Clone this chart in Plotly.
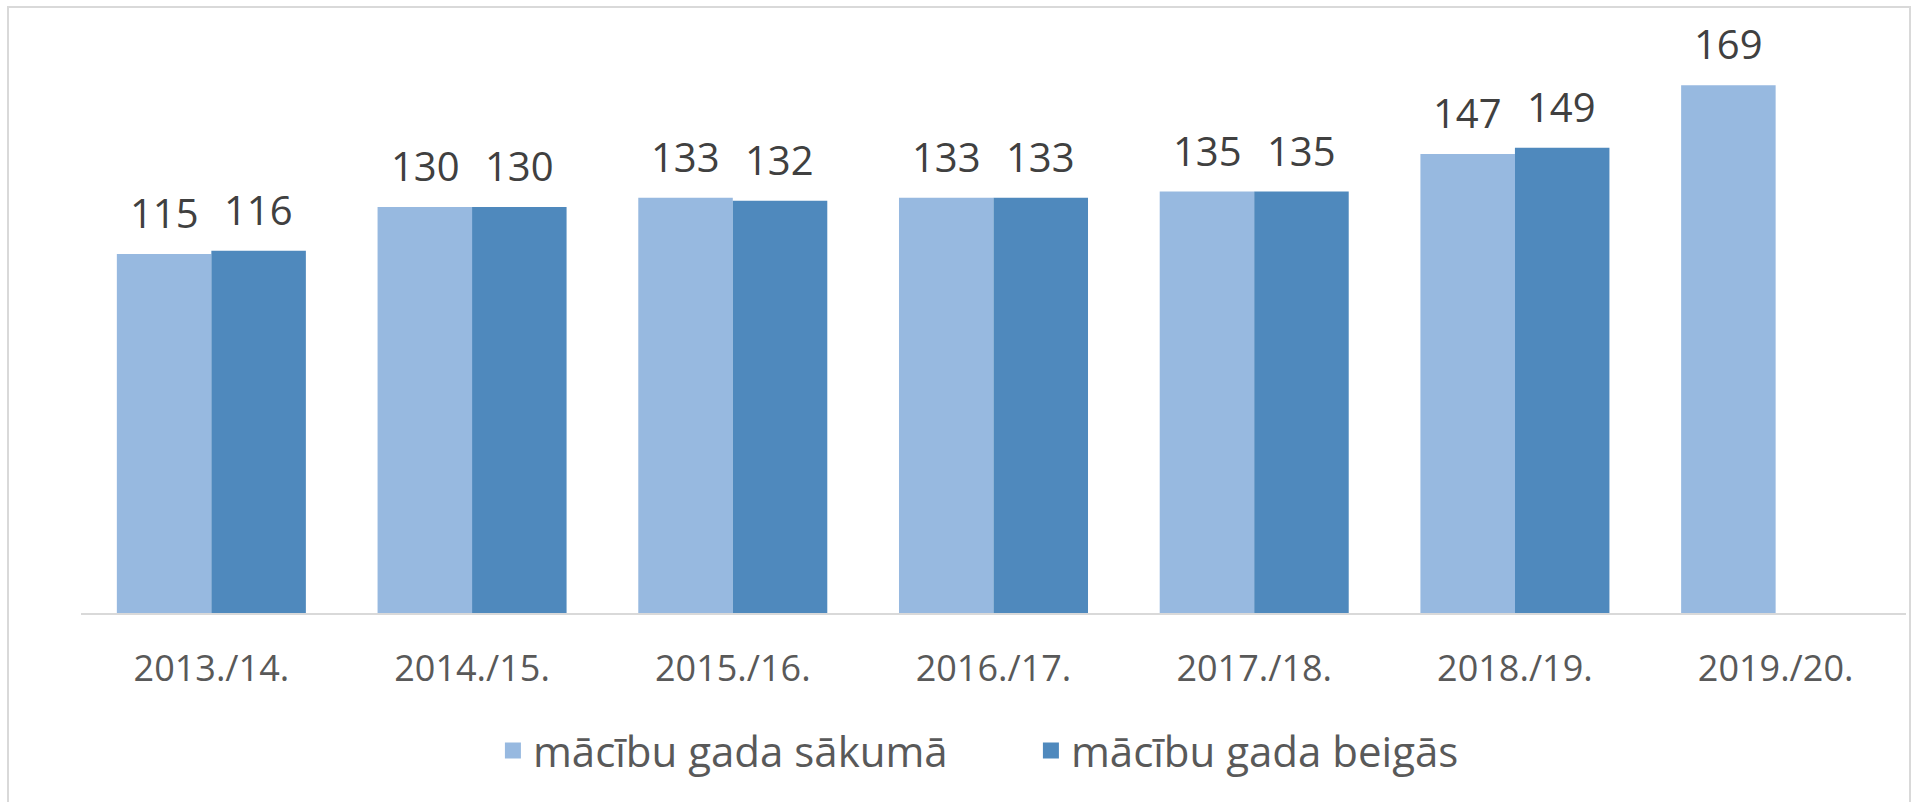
import plotly.graph_objects as go

categories = ["2013./14.", "2014./15.", "2015./16.", "2016./17.", "2017./18.", "2018./19.", "2019./20."]
start_values = [115, 130, 133, 133, 135, 147, 169]
end_values = [116, 130, 132, 133, 135, 149, None]
series_names = ["mācību gada sākumā", "mācību gada beigās"]
colors = ["#97B9E0", "#4F89BD"]

FONT = "Open Sans"

fig = go.Figure()
for name, vals, col in zip(series_names, [start_values, end_values], colors):
    fig.add_trace(go.Bar(
        x=categories, y=vals, name=name, marker_color=col,
        marker_line_width=0, hoverinfo="skip", showlegend=False,
    ))
# legend entries (square swatches)
for name, col in zip(series_names, colors):
    fig.add_trace(go.Scatter(
        x=[None], y=[None], mode="markers", name=name,
        marker=dict(symbol="square", size=16, color=col), showlegend=True,
    ))

annotations = []
for vals, shift in [(start_values, -47), (end_values, 47)]:
    for c, v in zip(categories, vals):
        if v is None:
            continue
        annotations.append(dict(
            x=c, y=v, xref="x", yref="y", text=str(v), showarrow=False,
            xanchor="center", yanchor="bottom", xshift=shift, yshift=12,
            font=dict(family=FONT, size=40, color="#404040"),
        ))

fig.update_layout(
    width=1916, height=802,
    margin=dict(l=81, r=10, t=51, b=189),
    paper_bgcolor="white", plot_bgcolor="white",
    barmode="group", bargap=0.275, bargroupgap=0,
    annotations=annotations,
    showlegend=True,
    legend=dict(
        orientation="h", x=0.5205, y=-0.245, xanchor="center", yanchor="middle",
        font=dict(family=FONT, size=42, color="#595959"),
        itemsizing="trace", traceorder="normal",
        entrywidth=493, entrywidthmode="pixels",
    ),
    xaxis=dict(
        showline=True, linecolor="#D9D9D9", linewidth=2,
        ticks="outside", ticklen=23, tickcolor="rgba(0,0,0,0)",
        tickfont=dict(family=FONT, size=36, color="#595959"),
        showgrid=False, fixedrange=True,
    ),
    yaxis=dict(
        range=[0, 180], visible=False, showgrid=False, zeroline=False, fixedrange=True,
    ),
    shapes=[dict(
        type="rect", xref="paper", yref="paper",
        x0=(8 - 81) / 1825, x1=(1910 - 81) / 1825,
        y0=(613 - 805) / 562, y1=(613 - 7) / 562,
        line=dict(color="#D9D9D9", width=2), fillcolor="rgba(0,0,0,0)", layer="below",
    )],
)

fig.write_html("out.html", config={"displayModeBar": False},
               post_script="document.body.style.margin='0';document.body.style.overflow='hidden';")
